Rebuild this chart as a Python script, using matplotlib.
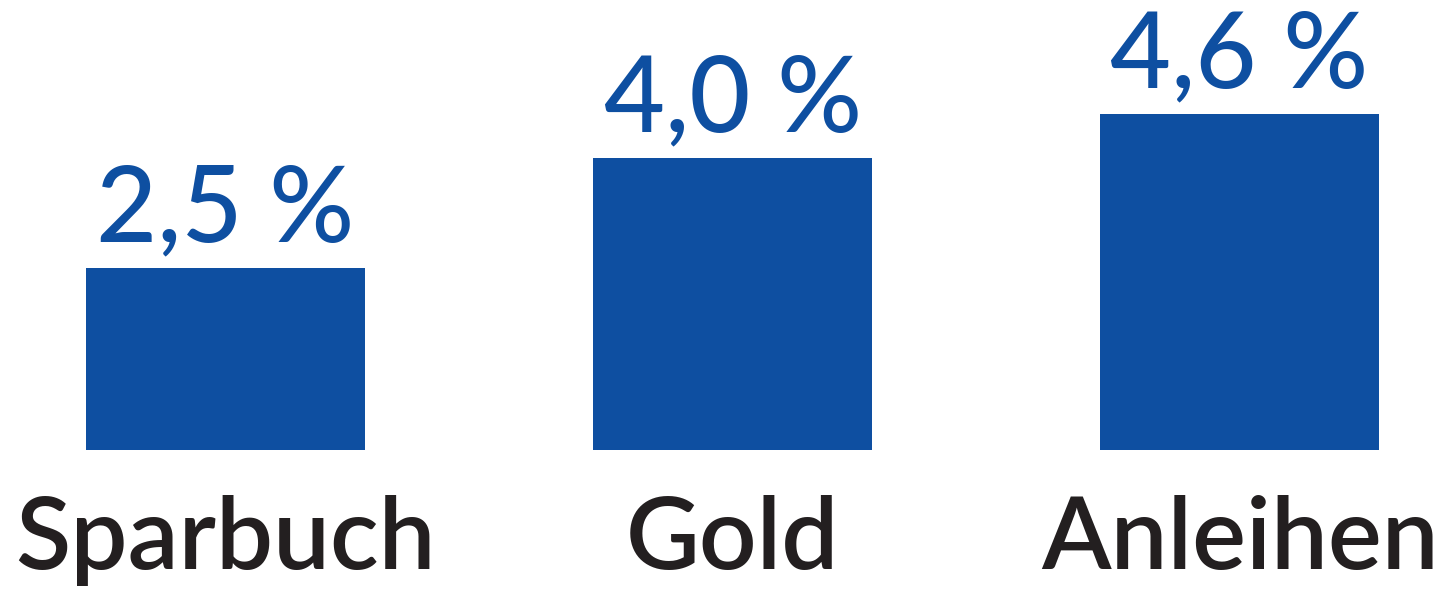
import matplotlib.pyplot as plt
from matplotlib import transforms

categories = ["Sparbuch", "Gold", "Anleihen"]
values = [2.5, 4.0, 4.6]
value_labels = ["2,5 %", "4,0 %", "4,6 %"]

blue = "#0e4fa1"
dark = "#231f20"

plt.rcParams['font.family'] = ['Lato', 'DejaVu Sans']

fig = plt.figure(figsize=(14.54, 5.93), dpi=100)
ax = fig.add_axes([0, 143 / 593, 1, 450 / 593])

xs = list(range(len(categories)))
ax.bar(xs, values, width=0.55, color=blue)

ax.set_xlim(-0.445, 2.423)
ax.set_ylim(0, 450 / 73)
ax.axis('off')

# value labels above the bars
for x, v, lab in zip(xs, values, value_labels):
    ax.annotate(lab, (x, v), xytext=(0, 19), textcoords='offset points',
                ha='center', va='baseline', fontsize=76, color=blue,
                fontweight='medium')

# category names below the bars
trans = transforms.blended_transform_factory(ax.transData, ax.transAxes)
for x, cat in zip(xs, categories):
    ax.annotate(cat, (x, 0), xycoords=trans, xytext=(0, -86),
                textcoords='offset points', ha='center', va='baseline',
                fontsize=73, color=dark, fontweight='semibold',
                annotation_clip=False)

fig.savefig('out.png', dpi=100)
